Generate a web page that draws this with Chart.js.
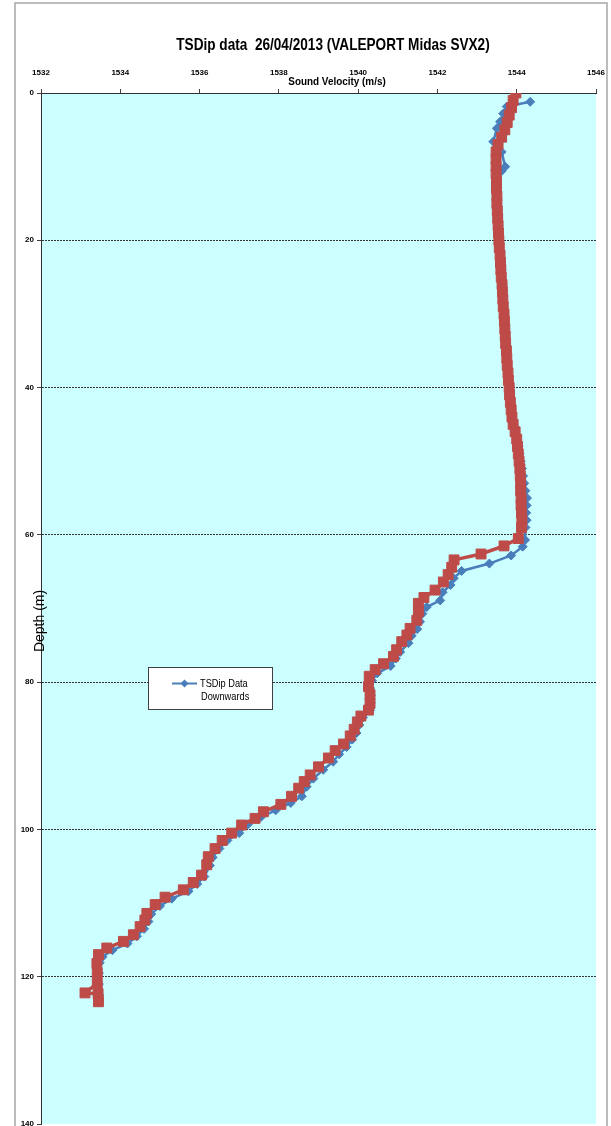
<!DOCTYPE html>
<html>
<head>
<meta charset="utf-8">
<script src="https://cdn.jsdelivr.net/npm/chart.js@4/dist/chart.umd.min.js"></script>
<style>
  html, body { margin: 0; padding: 0; background: #fff; overflow: hidden; }
  #wrap { position: relative; width: 611px; height: 1126px; overflow: hidden; }
  #c { display: block; }
</style>
</head>
<body>
<div id="wrap"><canvas id="c" width="611" height="1132"></canvas></div>
<script>
// ---- text ----
const chartTitle = 'TSDip data  26/04/2013 (VALEPORT Midas SVX2)';
const xAxisTitle = 'Sound Velocity (m/s)';
const yAxisTitle = 'Depth (m)';
const downLabel = 'TSDip Data Downwards';
const upLabel = 'TSDip Data Upwards';

// ---- axis ticks ----
const velocityTicks = [1532, 1534, 1536, 1538, 1540, 1542, 1544, 1546];
const depthTicks = [0, 20, 40, 60, 80, 100, 120, 140];

// ---- downcast profile (blue diamonds) ----
const downDepth = [
  1.2, 1.85, 2.8, 3.9, 4.8, 6.6, 8.0, 10.0, 10.6,
  12, 13, 14, 15, 16, 17, 18, 19, 20, 21, 22, 23, 24, 25, 26, 27, 28, 29, 30,
  31, 32, 33, 34, 35, 36, 37, 38, 39, 40, 41, 42, 43, 44, 45, 46, 47, 48, 49, 50,
  51, 52, 53, 54, 55, 56, 57, 58, 59,
  60.7, 61.6, 62.8, 63.9, 64.9, 65.9, 66.8, 67.8, 68.9, 69.8, 70.7, 71.8, 72.8,
  73.7, 74.7, 75.9, 76.8, 77.8, 78.8, 79.8, 80.8, 81.8, 82.8, 83.8, 84.8, 85.8,
  86.9, 87.8, 88.8, 89.8, 90.8, 91.9, 93.1, 94.2, 95.5, 96.4, 97.4, 98.3, 99.3,
  100.5, 101.5, 102.6, 103.8, 104.9, 106.4, 107.4, 108.4, 109.4, 110.4, 111.5,
  112.5, 113.5, 114.5, 115.5, 116.4, 117.3, 118.1, 119.5, 121.0, 122.5
];
const downVelocity = [
  1544.34, 1543.75, 1543.66, 1543.58, 1543.50, 1543.41, 1543.62, 1543.71, 1543.62,
  1543.50, 1543.50, 1543.51, 1543.51, 1543.52, 1543.53, 1543.54, 1543.55, 1543.56,
  1543.57, 1543.59, 1543.60, 1543.61, 1543.62, 1543.64, 1543.65, 1543.66, 1543.67,
  1543.69, 1543.70, 1543.71, 1543.72, 1543.73, 1543.75, 1543.76, 1543.77, 1543.79,
  1543.80, 1543.82, 1543.83, 1543.85, 1543.87, 1543.89, 1543.92, 1543.97, 1544.01,
  1544.04, 1544.07, 1544.10, 1544.13, 1544.16, 1544.19, 1544.22, 1544.26, 1544.25,
  1544.24, 1544.25, 1544.22,
  1544.21, 1544.15, 1543.86, 1543.31, 1542.61, 1542.41, 1542.33, 1542.13, 1542.07,
  1541.73, 1541.62, 1541.56, 1541.49, 1541.35, 1541.27, 1541.06, 1540.95, 1540.82,
  1540.48, 1540.35, 1540.30, 1540.32, 1540.32, 1540.30, 1540.12, 1540.03, 1539.96,
  1539.85, 1539.71, 1539.52, 1539.37, 1539.12, 1538.87, 1538.70, 1538.58, 1538.30,
  1537.92, 1537.55, 1537.22, 1537.00, 1536.70, 1536.50, 1536.33, 1536.26, 1536.12,
  1535.94, 1535.72, 1535.30, 1535.00, 1534.78, 1534.71, 1534.60, 1534.42, 1534.18,
  1533.80, 1533.55, 1533.48, 1533.46, 1533.46, 1533.47
];

// ---- upcast profile (red squares) ----
const upDepth = [
  0, 1, 2, 3, 4, 5, 6, 7, 8, 9, 10, 11, 12, 13, 14, 15, 16, 17, 18, 19, 20,
  21, 22, 23, 24, 25, 26, 27, 28, 29, 30, 31, 32, 33, 34, 35, 36, 37, 38, 39, 40,
  41, 42, 43, 44, 45, 46, 47, 48, 49, 50, 51, 52, 53, 54, 55, 56, 57, 58, 59,
  60.5, 61.5, 62.6, 63.4, 64.4, 65.4, 66.4, 67.5, 68.5, 69.3, 70.4, 71.6, 72.7,
  73.6, 74.5, 75.6, 76.5, 77.5, 78.3, 79.2, 80.6, 81.7, 82.9, 83.8, 84.6, 85.4,
  86.4, 87.3, 88.4, 89.3, 90.3, 91.5, 92.6, 93.5, 94.4, 95.5, 96.6, 97.6, 98.5,
  99.4, 100.5, 101.5, 102.6, 103.7, 104.8, 106.2, 107.2, 108.2, 109.2, 110.2,
  111.4, 112.3, 113.2, 114.3, 115.2, 116.1, 117.0, 118.2, 119.5, 120.9, 122.2,
  122.3, 123.4
];
const upVelocity = [
  1543.98, 1543.91, 1543.87, 1543.81, 1543.76, 1543.70, 1543.62, 1543.53, 1543.48,
  1543.48, 1543.48, 1543.48, 1543.49, 1543.49, 1543.50, 1543.50, 1543.51, 1543.52,
  1543.53, 1543.54, 1543.55, 1543.56, 1543.58, 1543.59, 1543.60, 1543.61, 1543.63,
  1543.64, 1543.65, 1543.66, 1543.68, 1543.69, 1543.70, 1543.71, 1543.72, 1543.74,
  1543.75, 1543.76, 1543.78, 1543.79, 1543.81, 1543.82, 1543.84, 1543.86, 1543.88,
  1543.91, 1543.96, 1544.00, 1544.02, 1544.04, 1544.06, 1544.08, 1544.09, 1544.10,
  1544.10, 1544.11, 1544.11, 1544.12, 1544.13, 1544.12,
  1544.04, 1543.68, 1543.10, 1542.42, 1542.36, 1542.27, 1542.15, 1541.94, 1541.66,
  1541.52, 1541.52, 1541.48, 1541.31, 1541.23, 1541.10, 1540.97, 1540.89, 1540.64,
  1540.43, 1540.28, 1540.26, 1540.30, 1540.30, 1540.26, 1540.07, 1539.98, 1539.90,
  1539.80, 1539.63, 1539.42, 1539.25, 1539.00, 1538.79, 1538.64, 1538.50, 1538.32,
  1538.05, 1537.61, 1537.40, 1537.06, 1536.81, 1536.57, 1536.39, 1536.22, 1536.18,
  1536.05, 1535.84, 1535.59, 1535.13, 1534.88, 1534.67, 1534.62, 1534.50, 1534.33,
  1534.08, 1533.66, 1533.45, 1533.41, 1533.42, 1533.42, 1533.11, 1533.44, 1533.45
];

const BLUE = '#4A7EBB';
const RED = '#BE4B48';
const SANS = "'Liberation Sans', Arial, sans-serif";

const toPoints = (depths, vels) => depths.map((d, i) => ({ x: vels[i], y: d }));

// Draws text squeezed horizontally to imitate a narrow typeface
function narrowText(ctx, text, x, y, font, squeeze, align) {
  ctx.save();
  ctx.font = font;
  ctx.textAlign = align;
  ctx.textBaseline = 'middle';
  ctx.translate(x, y);
  ctx.scale(squeeze, 1);
  ctx.fillText(text, 0, 0);
  ctx.restore();
}

// Page frame and light cyan plot background
const backdrop = {
  id: 'backdrop',
  beforeDraw(chart) {
    const { ctx, chartArea: a } = chart;
    ctx.save();
    ctx.fillStyle = '#ffffff';
    ctx.fillRect(0, 0, chart.width, chart.height);
    ctx.strokeStyle = '#a6a6a6';
    ctx.lineWidth = 1.5;
    ctx.strokeRect(15, 3, 592, 1150);
    ctx.fillStyle = '#CCFFFF';
    ctx.fillRect(a.left, a.top, a.right - a.left, a.bottom - a.top);
    ctx.restore();
  }
};

// Title, axis titles and the boxed legend inside the plot
const overlay = {
  id: 'overlay',
  afterDraw(chart) {
    const { ctx } = chart;
    ctx.save();
    ctx.fillStyle = '#000';
    narrowText(ctx, chartTitle, 333, 45, 'bold 17px ' + SANS, 0.8, 'center');
    narrowText(ctx, xAxisTitle, 337, 82, 'bold 11px ' + SANS, 0.9, 'center');

    ctx.save();
    ctx.translate(40.5, 621);
    ctx.rotate(-Math.PI / 2);
    ctx.font = '14px ' + SANS;
    ctx.textAlign = 'center';
    ctx.textBaseline = 'middle';
    ctx.fillText(yAxisTitle, 0, 0);
    ctx.restore();

    // legend box
    const ds = chart.data.datasets.find(d => d.label === downLabel);
    const bx = 148.5, by = 667.5, bw = 124, bh = 42;
    ctx.fillStyle = '#ffffff';
    ctx.fillRect(bx, by, bw, bh);
    ctx.strokeStyle = '#404040';
    ctx.lineWidth = 1;
    ctx.strokeRect(bx, by, bw, bh);
    const ly = 683.5;
    ctx.strokeStyle = ds.borderColor;
    ctx.lineWidth = 2;
    ctx.beginPath();
    ctx.moveTo(172, ly);
    ctx.lineTo(197, ly);
    ctx.stroke();
    ctx.fillStyle = ds.backgroundColor;
    ctx.beginPath();
    ctx.moveTo(184.5, ly - 4);
    ctx.lineTo(188.5, ly);
    ctx.lineTo(184.5, ly + 4);
    ctx.lineTo(180.5, ly);
    ctx.closePath();
    ctx.fill();
    const cut = ds.label.lastIndexOf(' ');
    ctx.fillStyle = '#000';
    narrowText(ctx, ds.label.slice(0, cut), 200, ly, '11px ' + SANS, 0.84, 'left');
    narrowText(ctx, ds.label.slice(cut + 1), 201, ly + 13, '11px ' + SANS, 0.84, 'left');
    ctx.restore();
  }
};

new Chart(document.getElementById('c'), {
  type: 'scatter',
  data: {
    datasets: [
      {
        label: upLabel,
        data: toPoints(upDepth, upVelocity),
        showLine: true,
        borderColor: RED,
        backgroundColor: RED,
        borderWidth: 3.5,
        pointStyle: 'rect',
        pointRadius: 7,
        pointBorderWidth: 1,
        tension: 0,
        order: 0
      },
      {
        label: downLabel,
        data: toPoints(downDepth, downVelocity),
        showLine: true,
        borderColor: BLUE,
        backgroundColor: BLUE,
        borderWidth: 2.5,
        pointStyle: 'rectRot',
        pointRadius: 4.5,
        pointBorderWidth: 1,
        tension: 0,
        order: 1
      }
    ]
  },
  options: {
    responsive: false,
    animation: false,
    devicePixelRatio: 1,
    layout: { padding: { left: 0, right: 15, top: 0, bottom: 0 } },
    plugins: {
      legend: { display: false },
      tooltip: { enabled: false },
      title: { display: false }
    },
    scales: {
      x: {
        type: 'linear',
        position: 'top',
        min: 1532,
        max: 1546,
        afterBuildTicks: s => { s.ticks = velocityTicks.map(v => ({ value: v })); },
        afterFit: s => { s.height = 93; s.paddingLeft = 0; s.paddingRight = 0; },
        ticks: {
          color: '#000',
          padding: 11,
          maxRotation: 0,
          autoSkip: false,
          font: { family: SANS, size: 8, weight: 'bold' },
          callback: v => String(v)
        },
        grid: { drawOnChartArea: false, drawTicks: true, tickLength: 4, tickColor: '#404040' },
        border: { display: true, color: '#303030', width: 1 }
      },
      y: {
        type: 'linear',
        reverse: true,
        min: 0,
        max: 140,
        afterBuildTicks: s => { s.ticks = depthTicks.map(v => ({ value: v })); },
        afterFit: s => { s.width = 41; },
        ticks: {
          color: '#000',
          padding: 3,
          autoSkip: false,
          font: { family: SANS, size: 8, weight: 'bold' },
          callback: v => String(v)
        },
        grid: {
          drawTicks: true,
          tickLength: 4,
          tickColor: '#404040',
          lineWidth: 1,
          color: c => (c.tick && (c.tick.value === 0 || c.tick.value === 140)) ? 'rgba(0,0,0,0)' : '#333333'
        },
        border: { display: true, color: '#303030', width: 1, dash: [2, 1] }
      }
    }
  },
  plugins: [backdrop, overlay]
});
</script>
</body>
</html>
